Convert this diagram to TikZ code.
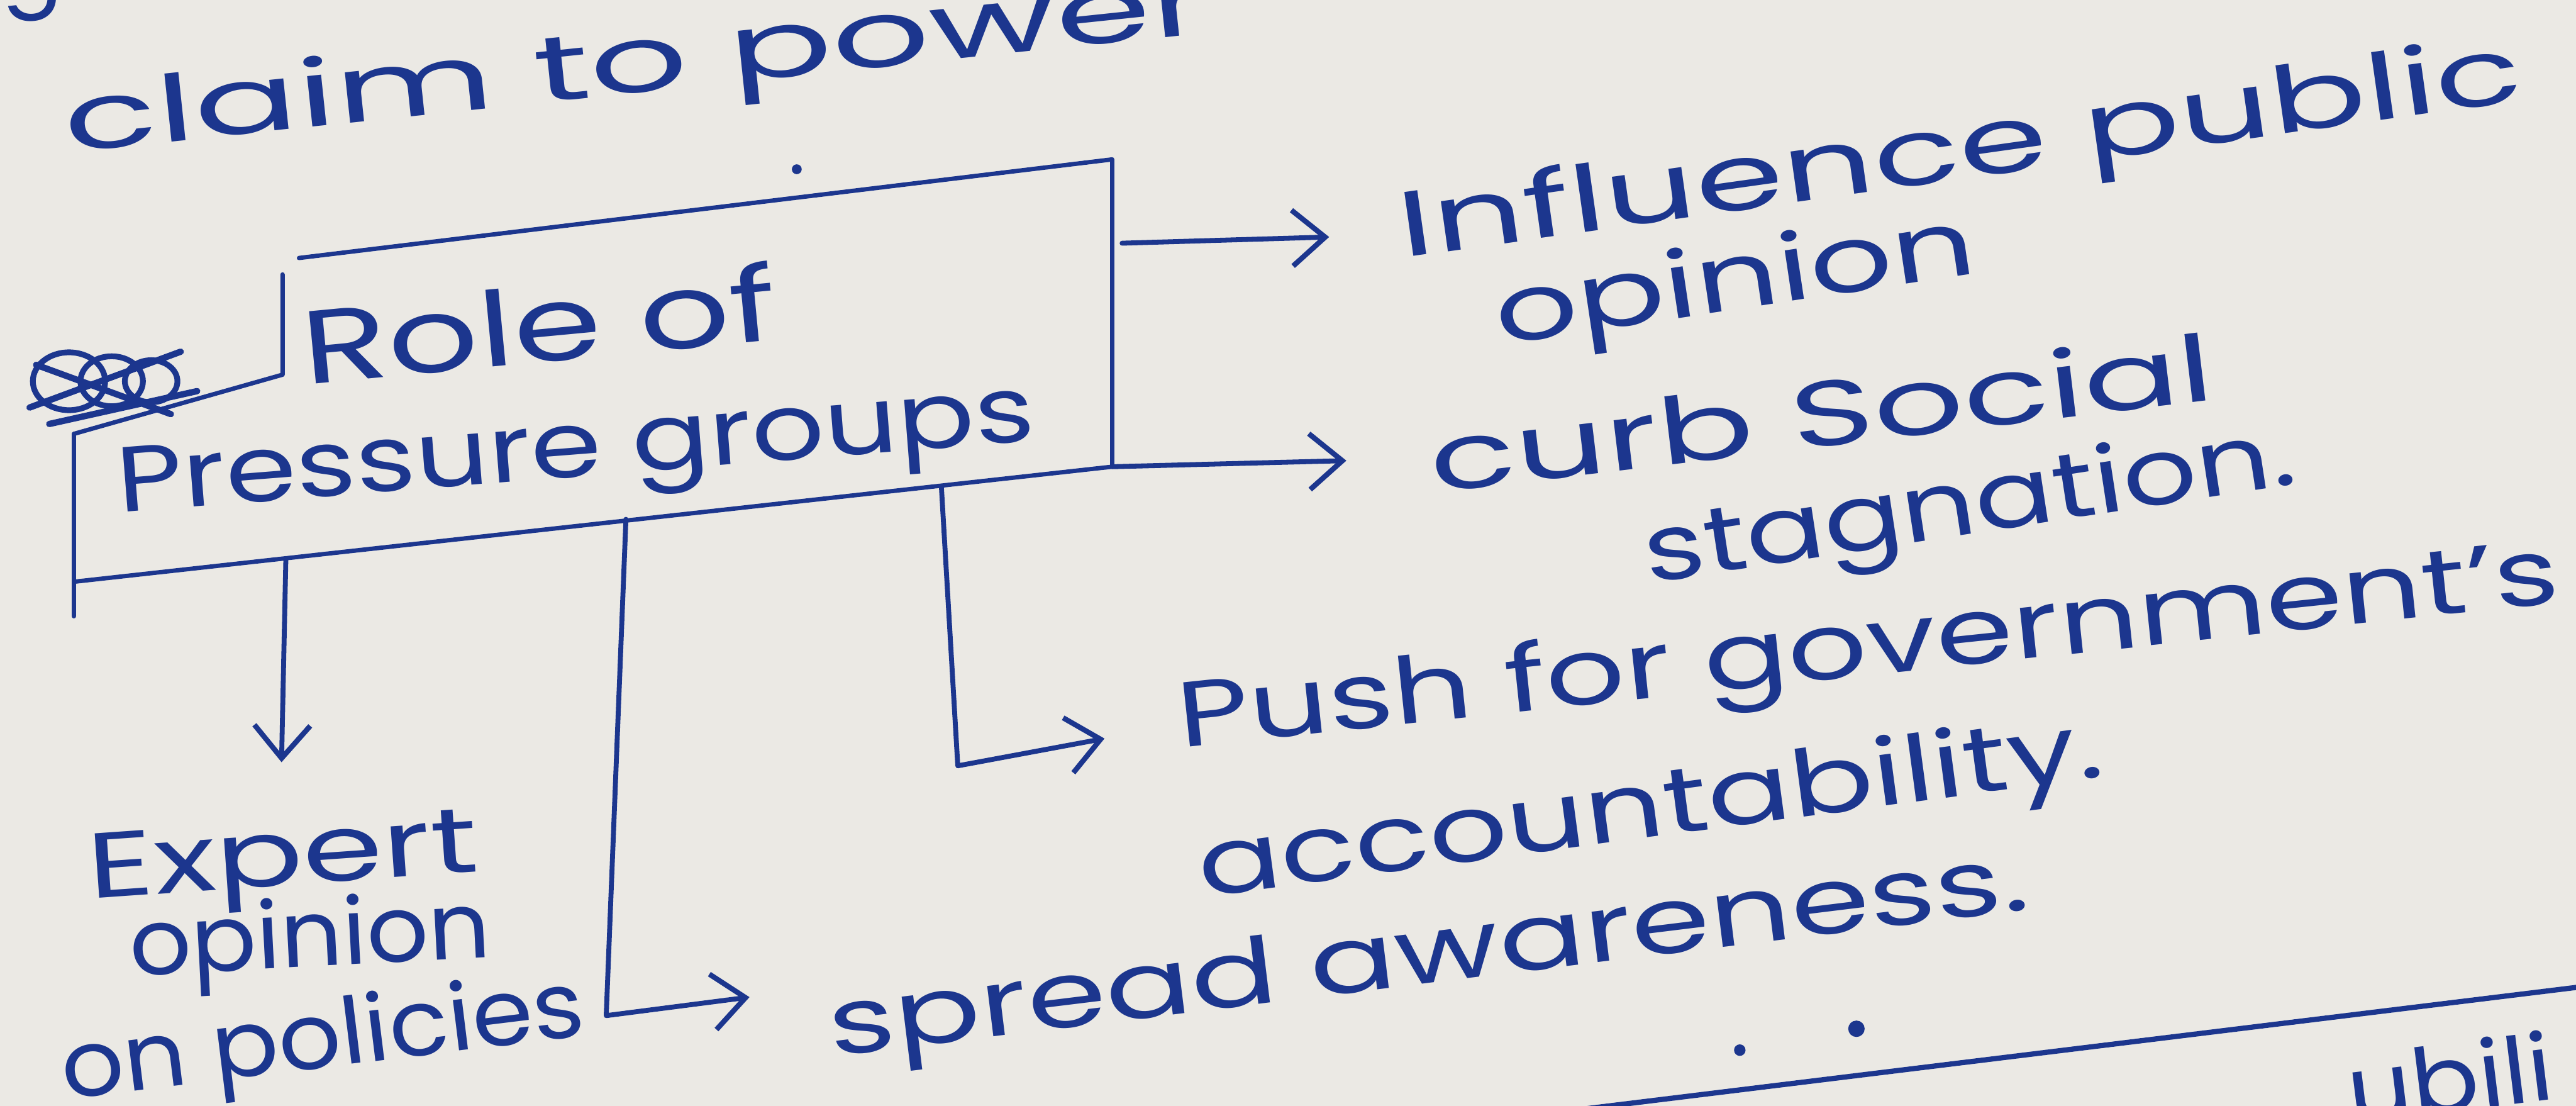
\documentclass[tikz,border=0pt]{standalone}
\usepackage{fontspec}
\setmainfont{Poppins}
\usepackage{graphicx}
\usetikzlibrary{arrows.meta,calc}
\definecolor{Paper}{RGB}{235,233,228}
\definecolor{InkBlue}{RGB}{28,54,142}
\newcommand{\hw}[2]{\resizebox{#1}{\height}{#2}}

\begin{document}
\begin{tikzpicture}[
      x=0.1mm, y=-0.1mm,
      hand/.style={text=InkBlue, inner sep=0pt, anchor=base west, font=\fontsize{16}{19}\selectfont},
      ink/.style={draw=InkBlue, line width=0.75pt, line cap=round, line join=round},
      arr/.style={ink, -{Straight Barb[length=2mm, width=3.4mm, line width=0.9pt]}, line width=0.85pt}
  ]
    \useasboundingbox (0,0) rectangle (1568,673);
    \fill[Paper] (0,0) rectangle (1568,673);

    \node[hand, rotate=6] (prev) at (0,0) {g};
    \node[hand, rotate=6] (claim) at (40,93) {\hw{70mm}{claim to power}};

    \node[hand, rotate=5.4, font=\fontsize{18}{21}\selectfont] (role) at (185,234) {\hw{29mm}{Role of}};
    \node[hand, rotate=4.5] (press) at (72,312) {\hw{56mm}{Pressure groups}};

    \node[hand, rotate=4] (expert) at (54,547) {\hw{23.8mm}{Expert}};
    \node[hand, rotate=3] (experta) at (79,594) {\hw{22mm}{opinion}};
    \node[hand, rotate=7] (expertb) at (39,669) {\hw{32mm}{on policies}};

    \node[hand, rotate=8] (infl) at (853,157) {\hw{69mm}{Influence public}};
    \node[hand, rotate=8.5] (infla) at (912,210) {\hw{29.5mm}{opinion}};
    \node[hand, rotate=6.8] (curb) at (872,300) {\hw{48mm}{curb Social}};
    \node[hand, rotate=8.7] (curba) at (1003,355) {\hw{40mm}{stagnation.}};
    \node[hand, rotate=6] (push) at (718,455) {\hw{84.5mm}{Push for government's}};
    \node[hand, rotate=7.6] (pusha) at (731,546) {\hw{55.5mm}{accountability.}};
    \node[hand, rotate=7] (spread) at (506,643) {\hw{73.5mm}{spread awareness.}};
    \node[hand, rotate=7] (next) at (1431,684) {\hw{12.5mm}{ubili}};

    % box corners, with the step at the upper left
    \coordinate (tl) at (182,157);
    \coordinate (tr) at (677,97);
    \coordinate (br) at (677,284);
    \coordinate (bl) at (45,354);
    \coordinate (lt) at (45,264);
    \coordinate (lb) at (45,375);
    \coordinate (nk) at (172,228);
    \coordinate (nt) at (172,167);
    \draw[ink] (tl) -- (tr) -- (br) -- (bl);
    \draw[ink] (lt) -- (lb);
    \draw[ink] (lt) -- (nk) -- (nt);

    % crossed-out letters left of the box
    \foreach \dx/\r in {0/22,26/19,50/16}
      \draw[ink, line width=1pt] (42+\dx,232) ellipse [x radius=\r, y radius=0.8*\r];
    \draw[ink, line width=1.1pt] (18,248) -- (110,214) (22,222) -- (104,252) (30,258) -- (120,238);

    \coordinate (r1) at (683,148);
    \coordinate (b1) at (174,340);
    \coordinate (b2) at (381,316);
    \coordinate (e2) at (369,618);
    \coordinate (b3) at (573,296);
    \coordinate (e3) at (583,466);
    \draw[arr, shorten >=4.2mm] (r1) -- (infl.west);
    \draw[arr, shorten >=5mm] (br) -- (curb.west);
    \draw[arr, shorten >=3.5mm] (b1) -- (expert.north);
    \draw[arr, shorten >=4.5mm] (b2) -- (e2) -- (spread.north west);
    \draw[arr, shorten >=4.5mm] (b3) -- (e3) -- (push.west);

    \draw[ink, line width=0.9pt] (930,679) -- (1575,600);
    \fill[InkBlue] (485,103) circle [radius=3];
    \fill[InkBlue] (1059,639) circle [radius=3.5];
    \fill[InkBlue] (1130,626) circle [radius=5];
  \end{tikzpicture}
\end{document}
